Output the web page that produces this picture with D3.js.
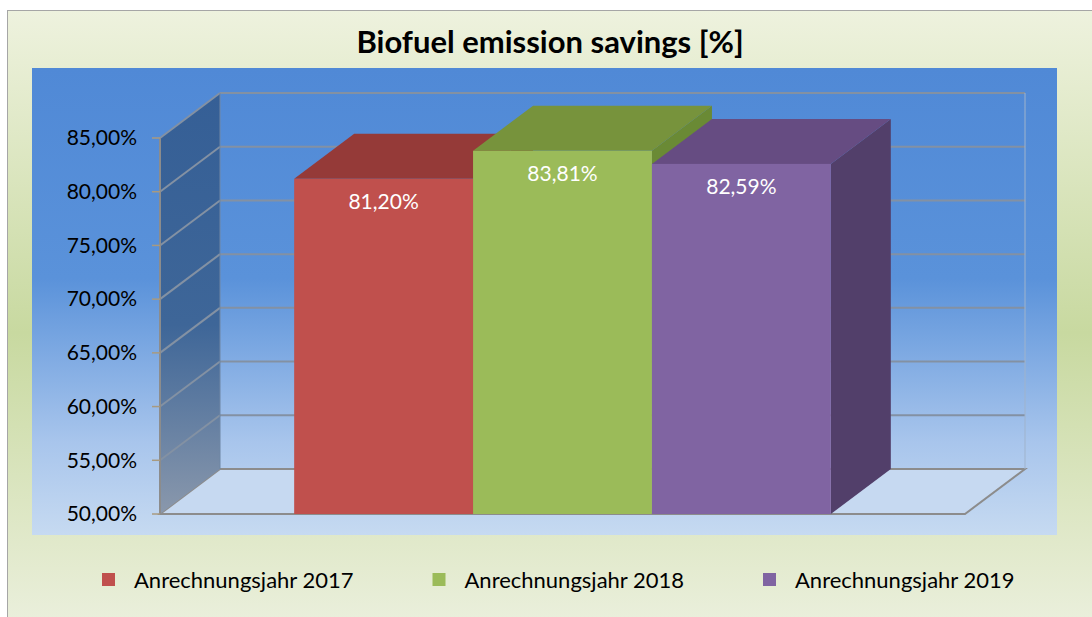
<!DOCTYPE html>
<html>
<head>
<meta charset="utf-8">
<script src="https://cdn.jsdelivr.net/npm/d3@7"></script>
<style>
  html, body { margin: 0; padding: 0; background: #fff; }
  svg { display: block; }
</style>
</head>
<body>
<div class="js-chart"></div>
<script>
// chart data
const series = ['Anrechnungsjahr 2017', 'Anrechnungsjahr 2018', 'Anrechnungsjahr 2019'];
const values = [81.2, 83.81, 82.59];
const yTicks = [50, 55, 60, 65, 70, 75, 80, 85];
const frontColors = ['#c0504d', '#9bbb59', '#8064a2'];
const topColors = ['#953a38', '#77933c', '#664c82'];
const sideColors = ['#7c2f2d', '#6a8a35', '#523f6a'];

var width = 1092;
var height = 617;
var depthX = 60;
var depthY = -45;
var floorLeft = 160;
var floorRight = 965;
var font = 'Lato, "Open Sans", sans-serif';

var de = d3.formatLocale({ decimal: ',', thousands: '.', grouping: [3], currency: ['', '€'] });
var pct = de.format('.2f');

var svg = d3.select('.js-chart').append('svg')
  .attr('width', width)
  .attr('height', height);

var defs = svg.append('defs');

var outerGrad = defs.append('linearGradient').attr('id', 'outerGrad')
  .attr('x1', 0).attr('y1', 0).attr('x2', 0).attr('y2', 1);
outerGrad.append('stop').attr('offset', '0%').attr('stop-color', '#eef2de');
outerGrad.append('stop').attr('offset', '52%').attr('stop-color', '#c8d9a0');
outerGrad.append('stop').attr('offset', '90%').attr('stop-color', '#e4ebd0');
outerGrad.append('stop').attr('offset', '100%').attr('stop-color', '#ebf0de');

var plotGrad = defs.append('linearGradient').attr('id', 'plotGrad')
  .attr('x1', 0).attr('y1', 0).attr('x2', 0).attr('y2', 1);
plotGrad.append('stop').attr('offset', '0%').attr('stop-color', '#5089d6');
plotGrad.append('stop').attr('offset', '45%').attr('stop-color', '#5a92da');
plotGrad.append('stop').attr('offset', '80%').attr('stop-color', '#a8c5ec');
plotGrad.append('stop').attr('offset', '100%').attr('stop-color', '#c6daf1');

var wallGrad = defs.append('linearGradient').attr('id', 'wallGrad')
  .attr('x1', 0).attr('y1', 0).attr('x2', 0).attr('y2', 1);
wallGrad.append('stop').attr('offset', '0%').attr('stop-color', '#355f96');
wallGrad.append('stop').attr('offset', '55%').attr('stop-color', '#3e6698');
wallGrad.append('stop').attr('offset', '100%').attr('stop-color', '#8a98ac');

// outer chart area
svg.append('rect')
  .attr('x', 7.5).attr('y', 10.5)
  .attr('width', 1100).attr('height', 620)
  .attr('fill', 'url(#outerGrad)')
  .attr('stroke', '#a6a6a6');

// title
svg.append('text')
  .attr('x', 550).attr('y', 53)
  .attr('text-anchor', 'middle')
  .style('font-family', font)
  .style('font-weight', 'bold')
  .style('font-size', '31px')
  .attr('fill', '#000')
  .text('Biofuel emission savings [%]');

// plot area
svg.append('rect')
  .attr('x', 32).attr('y', 68)
  .attr('width', 1025).attr('height', 467)
  .attr('fill', 'url(#plotGrad)');

var y = d3.scaleLinear().domain([50, 85]).range([514, 138]);

var x0 = d3.scaleBand().domain(['all']).range([floorLeft, floorRight]).paddingInner(0).paddingOuter(0.25);
var x1 = d3.scaleBand().domain(series).range([0, x0.bandwidth()]);

var pts = (arr) => arr.map((p) => p.join(',')).join(' ');
var gridColor = '#8391a3';

// floor
var yBase = y(50);
svg.append('polygon')
  .attr('points', pts([[floorLeft, yBase], [floorRight, yBase], [floorRight + depthX, yBase + depthY], [floorLeft + depthX, yBase + depthY]]))
  .attr('fill', '#c6d9f1')
  .attr('stroke', '#8c8c8c')
  .attr('stroke-width', 2);

// left wall
svg.append('polygon')
  .attr('points', pts([[floorLeft, y(85)], [floorLeft + depthX, y(85) + depthY], [floorLeft + depthX, yBase + depthY], [floorLeft, yBase]]))
  .attr('fill', 'url(#wallGrad)');

// back wall grid lines
svg.append('g').selectAll('line')
  .data(yTicks.slice(1))
  .enter()
  .append('line')
  .attr('x1', floorLeft + depthX)
  .attr('x2', floorRight + depthX)
  .attr('y1', (d) => y(d) + depthY)
  .attr('y2', (d) => y(d) + depthY)
  .attr('stroke', gridColor)
  .attr('stroke-width', 2);

// right edge of back wall
svg.append('line')
  .attr('x1', floorRight + depthX).attr('x2', floorRight + depthX)
  .attr('y1', y(85) + depthY).attr('y2', yBase + depthY)
  .attr('stroke', '#9fb3cc').attr('stroke-width', 1);

// side wall grid lines
svg.append('g').selectAll('line')
  .data(yTicks.slice(1))
  .enter()
  .append('line')
  .attr('x1', floorLeft)
  .attr('x2', floorLeft + depthX)
  .attr('y1', (d) => y(d))
  .attr('y2', (d) => y(d) + depthY)
  .attr('stroke', gridColor)
  .attr('stroke-width', 2);

svg.append('line')
  .attr('x1', floorLeft).attr('x2', floorLeft)
  .attr('y1', y(85)).attr('y2', yBase)
  .attr('stroke', '#8c8c8c').attr('stroke-width', 2);
svg.append('line')
  .attr('x1', floorLeft + depthX).attr('x2', floorLeft + depthX)
  .attr('y1', y(85) + depthY).attr('y2', yBase + depthY)
  .attr('stroke', '#6f86a4').attr('stroke-width', 1);

// y axis ticks and labels
var yAxis = svg.append('g');
yAxis.selectAll('line')
  .data(yTicks)
  .enter()
  .append('line')
  .attr('x1', floorLeft - 8).attr('x2', floorLeft)
  .attr('y1', (d) => y(d)).attr('y2', (d) => y(d))
  .attr('stroke', '#a89a80').attr('stroke-width', 1.5);
yAxis.selectAll('text')
  .data(yTicks)
  .enter()
  .append('text')
  .attr('x', floorLeft - 23)
  .attr('y', (d) => y(d))
  .attr('dy', '0.35em')
  .attr('text-anchor', 'end')
  .style('font-family', font)
  .style('font-size', '21px')
  .attr('fill', '#000')
  .text((d) => pct(d) + '%');

// bars, drawn left to right
var bars = svg.append('g')
  .selectAll('g')
  .data(series)
  .enter()
  .append('g');

bars.each(function (s, i) {
  var g = d3.select(this);
  var xl = x0('all') + x1(s);
  var xr = xl + x1.bandwidth();
  var yt = y(values[i]);
  g.append('polygon')
    .attr('points', pts([[xr, yt], [xr + depthX, yt + depthY], [xr + depthX, yBase + depthY], [xr, yBase]]))
    .attr('fill', sideColors[i]);
  g.append('polygon')
    .attr('points', pts([[xl, yt], [xl + depthX, yt + depthY], [xr + depthX, yt + depthY], [xr, yt]]))
    .attr('fill', topColors[i]);
  g.append('rect')
    .attr('x', xl).attr('y', yt)
    .attr('width', x1.bandwidth())
    .attr('height', yBase - yt)
    .attr('fill', frontColors[i]);
  g.append('text')
    .attr('x', (xl + xr) / 2)
    .attr('y', yt + 23)
    .attr('dy', '0.35em')
    .attr('text-anchor', 'middle')
    .style('font-family', font)
    .style('font-size', '21px')
    .attr('fill', '#fff')
    .text(pct(values[i]) + '%');
});

// legend
var legendX = d3.scalePoint().domain(series).range([102, 763]);
var legend = svg.append('g')
  .selectAll('g')
  .data(series)
  .enter()
  .append('g')
  .attr('transform', (d) => `translate(${legendX(d)},573)`);
legend.append('rect')
  .attr('width', 13).attr('height', 13)
  .attr('fill', (d, i) => frontColors[i]);
legend.append('text')
  .attr('x', 32).attr('y', 7)
  .attr('dy', '0.35em')
  .style('font-family', font)
  .style('font-size', '22px')
  .attr('fill', '#000')
  .text((d) => d);
</script>
</body>
</html>
